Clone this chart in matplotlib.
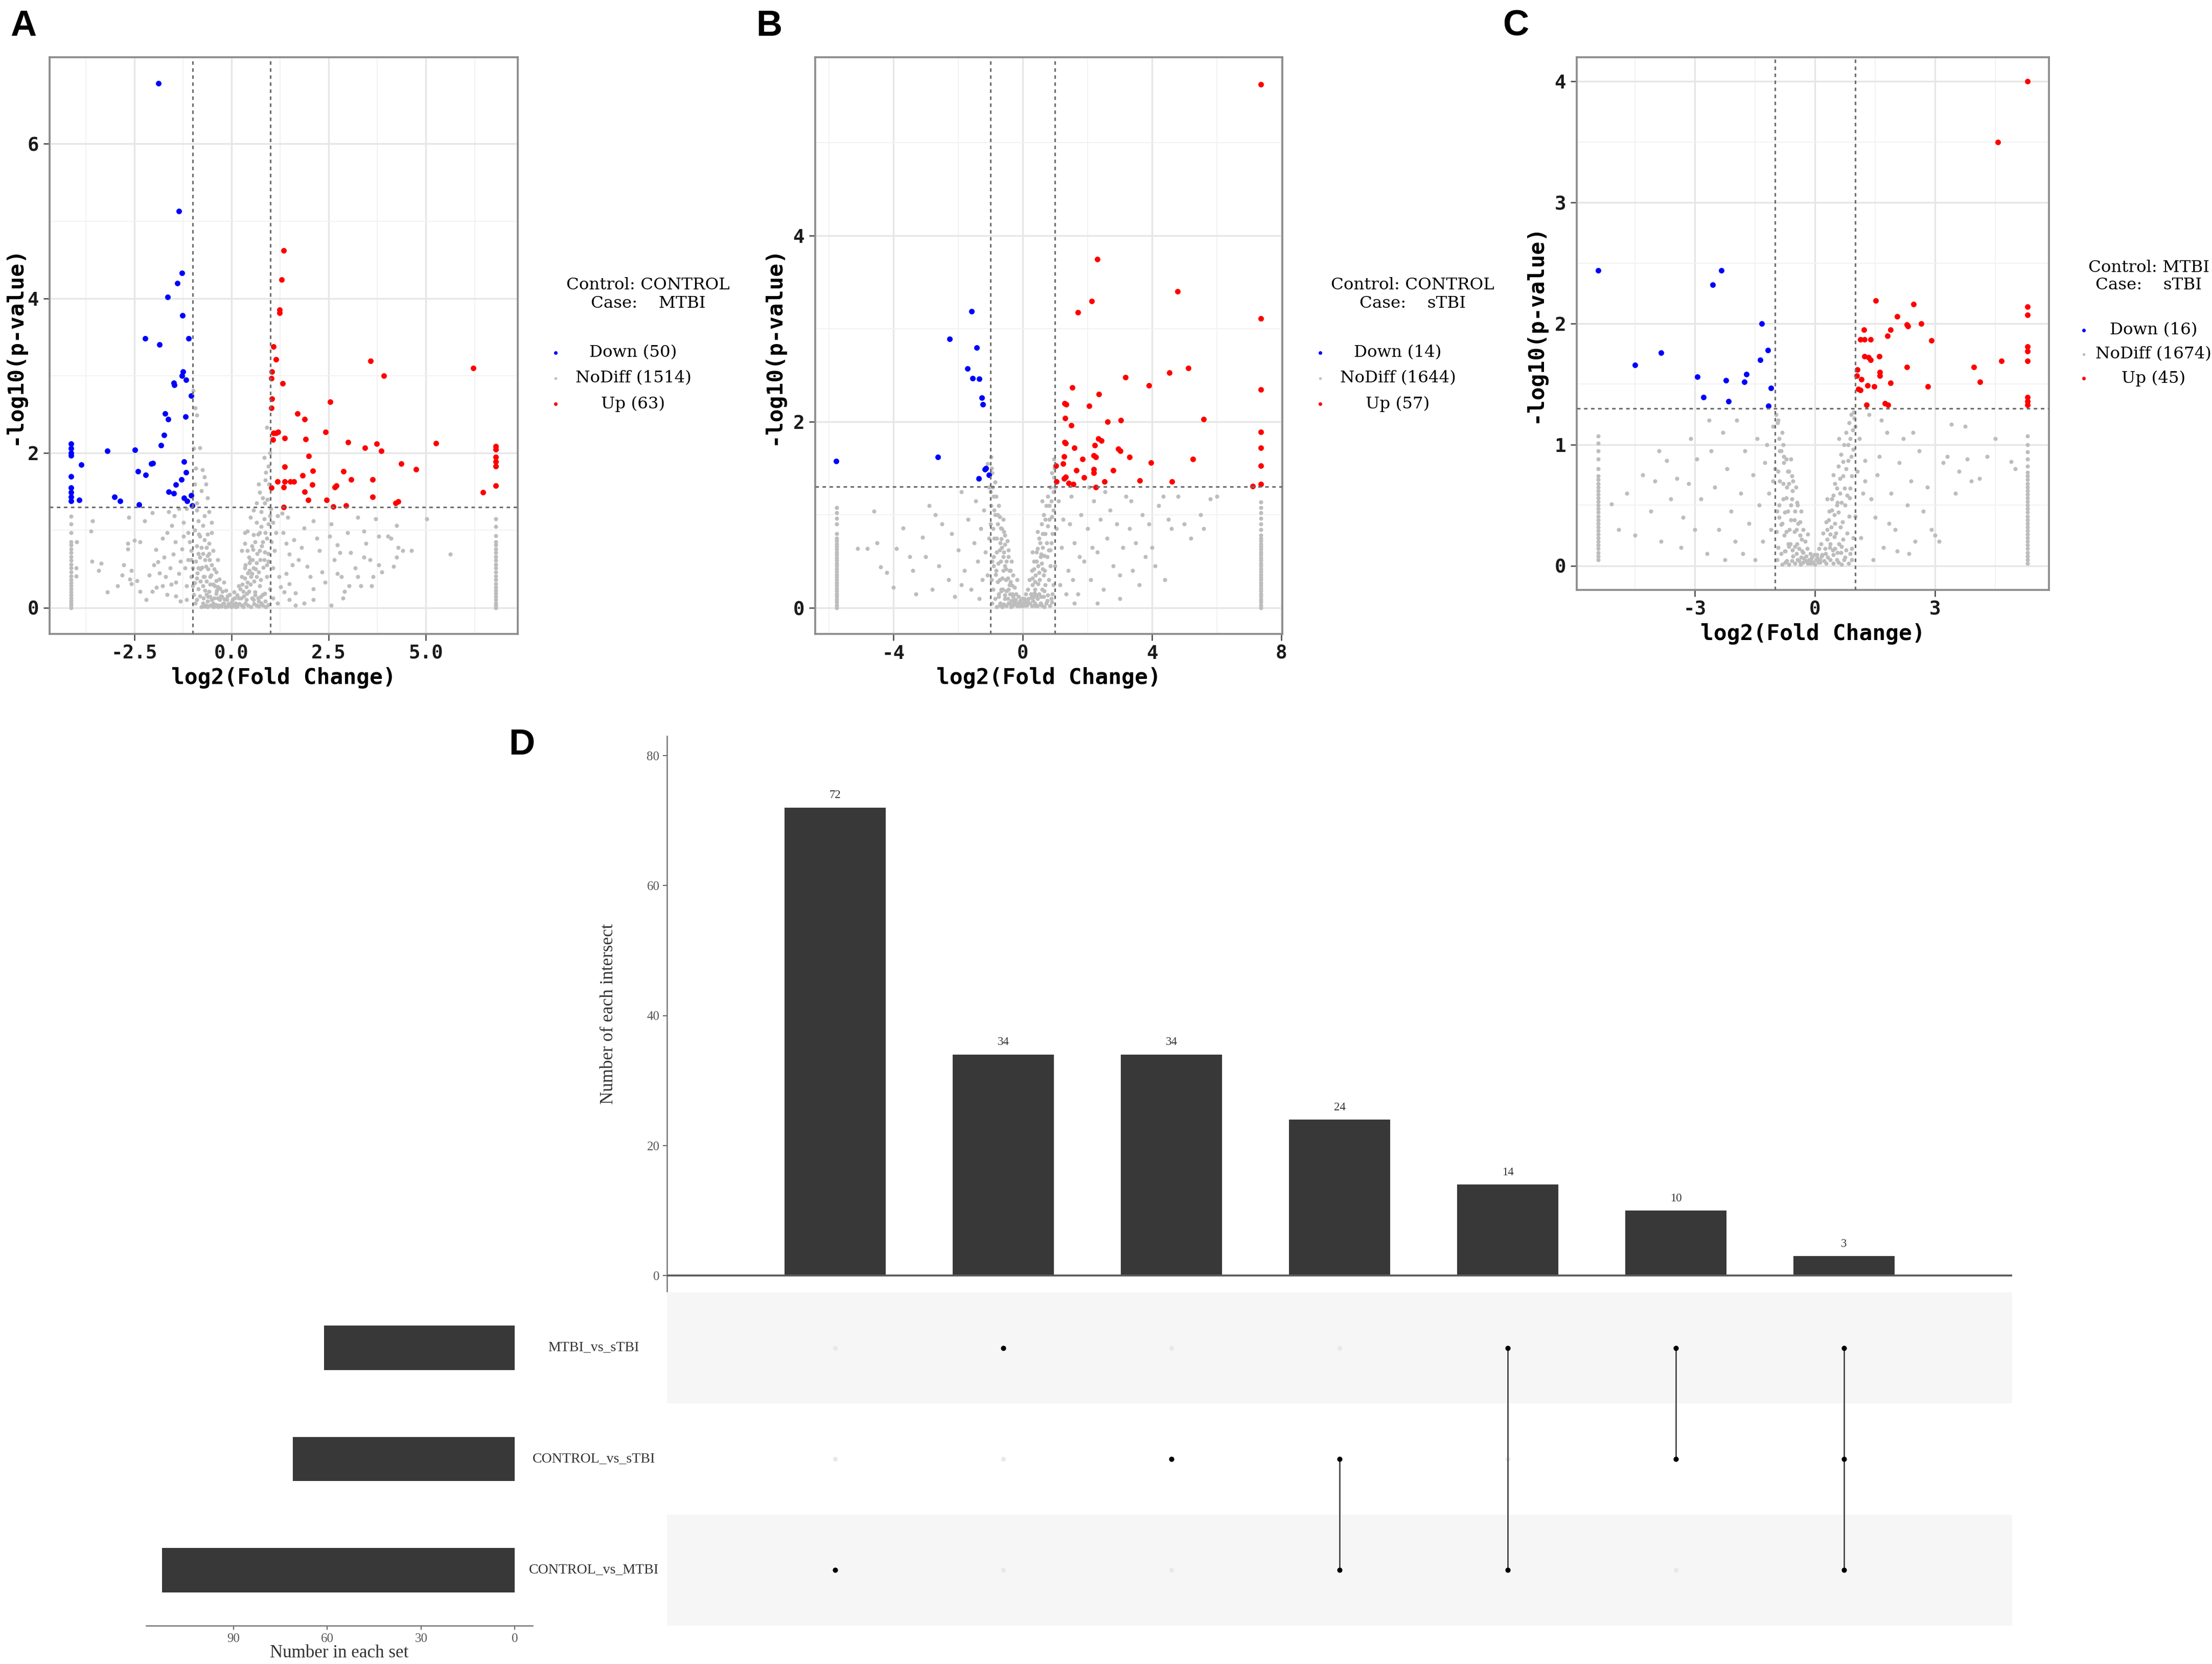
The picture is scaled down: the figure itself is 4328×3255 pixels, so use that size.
import matplotlib.pyplot as plt
from matplotlib.lines import Line2D
import numpy as np

W, H = 4328, 3255
DPI = 300

# ---------------- panel A : CONTROL vs MTBI ----------------
a_down = [(-1.88, 6.78), (-1.36, 5.13), (-1.28, 4.33), (-1.40, 4.20), (-1.65, 4.02),
          (-1.26, 3.78), (-2.22, 3.48), (-1.85, 3.40), (-1.11, 3.48), (-1.25, 3.05),
          (-1.28, 3.00), (-1.17, 2.95), (-1.49, 2.91), (-1.47, 2.88), (-1.04, 2.74),
          (-1.71, 2.51), (-1.63, 2.44), (-1.19, 2.47), (-1.74, 2.23), (-1.82, 2.10),
          (-4.13, 2.12), (-4.13, 2.06), (-4.13, 2.00), (-4.13, 1.97), (-3.20, 2.03),
          (-2.48, 2.04), (-2.02, 1.87), (-2.07, 1.86), (-1.22, 1.89), (-3.86, 1.85),
          (-2.41, 1.76), (-2.21, 1.72), (-1.17, 1.75), (-4.13, 1.70), (-1.29, 1.66),
          (-1.43, 1.59), (-4.13, 1.55), (-4.13, 1.49), (-4.13, 1.43), (-4.13, 1.38),
          (-1.62, 1.50), (-1.48, 1.48), (-3.01, 1.43), (-3.92, 1.39), (-2.86, 1.38),
          (-1.22, 1.42), (-1.15, 1.38), (-1.04, 1.45), (-2.38, 1.33), (-1.01, 1.32)]
a_up = [(1.34, 4.62), (1.29, 4.24), (1.23, 3.85), (1.24, 3.81), (1.08, 3.38), (1.14, 3.21),
        (1.04, 3.05), (1.02, 2.97), (1.32, 2.90), (1.04, 2.70), (1.02, 2.58), (2.53, 2.66),
        (1.70, 2.51), (1.88, 2.44), (1.08, 2.26), (1.14, 2.26), (1.20, 2.27), (1.36, 2.19),
        (1.91, 2.18), (2.42, 2.27), (3.00, 2.14), (5.26, 2.13), (3.73, 2.12), (3.43, 2.07),
        (3.85, 2.03), (6.80, 2.09), (6.80, 2.05), (6.80, 1.95), (6.80, 1.89), (6.80, 1.83),
        (1.99, 1.96), (3.58, 3.19), (3.91, 3.00), (6.22, 3.10), (4.36, 1.86), (4.74, 1.79),
        (1.36, 1.82), (2.09, 1.77), (2.88, 1.76), (1.82, 1.71), (1.36, 1.63), (1.51, 1.63),
        (1.60, 1.63), (1.18, 1.63), (3.07, 1.66), (3.63, 1.66), (2.07, 1.59), (2.70, 1.58),
        (2.66, 1.56), (6.80, 1.58), (1.02, 1.55), (1.34, 1.56), (1.88, 1.50), (6.46, 1.49),
        (1.97, 1.39), (2.45, 1.39), (3.63, 1.43), (4.28, 1.37), (4.22, 1.35), (2.94, 1.32),
        (2.61, 1.31), (1.34, 1.30), (1.06, 2.17)]
a_nodiff = [
    (-3.58, 1.12), (-3.62, 0.99), (-3.98, 0.85), (-3.59, 0.60), (-3.35, 0.57), (-3.42, 0.48),
    (-4.00, 0.51), (-4.00, 0.41), (-3.19, 0.20), (-2.64, 1.17), (-2.77, 0.55), (-2.58, 0.48),
    (-2.67, 0.83), (-2.67, 0.76), (-2.50, 0.87), (-2.35, 0.85), (-2.23, 1.12), (-2.04, 1.23),
    (-2.58, 0.31), (-2.35, 0.21), (-2.20, 0.10), (-2.43, 0.35), (-2.12, 0.42), (-2.00, 0.55),
    (-1.89, 0.59), (-1.73, 0.65), (-1.77, 0.90), (-1.66, 0.97), (-1.54, 1.06), (-1.62, 1.24),
    (-1.47, 1.19), (-1.50, 0.69), (-1.58, 0.51), (-1.70, 0.40), (-1.77, 0.28), (-1.66, 0.17),
    (-1.93, 0.26), (-2.04, 0.21), (-1.43, 0.33), (-1.35, 0.44), (-1.31, 0.60), (-1.27, 0.76),
    (-1.24, 0.92), (-1.24, 1.10), (-1.35, 1.28), (-1.43, 0.15), (-1.31, 0.08), (-2.62, 0.37),
    (-2.93, 0.28), (-2.81, 0.42), (-1.85, 0.45), (-1.55, 0.30), (-1.45, 0.85), (-1.95, 0.75),
    (-0.98, 2.81), (-0.93, 2.58), (-0.89, 2.49), (-0.97, 2.06), (-0.81, 2.07), (-0.75, 1.78),
    (-0.70, 1.69), (-0.66, 1.60), (-0.78, 1.51), (-0.62, 1.42), (-0.89, 1.26), (-0.58, 1.24),
    (-0.51, 1.10), (-1.16, 1.28), (-1.12, 0.97), (-1.08, 0.85), (-1.04, 0.74), (-1.04, 0.62),
    (-1.00, 0.51), (-1.04, 0.40), (-1.00, 0.28), (-0.97, 0.17), (-0.93, 0.06), (-0.89, 0.10),
    (-0.85, 0.24), (-0.89, 0.38), (-0.85, 0.51), (-0.81, 0.65), (-0.78, 0.78), (-0.81, 0.92),
    (-0.74, 1.06), (-0.70, 1.19), (-0.85, 1.12), (-0.74, 0.28), (-0.70, 0.40), (-0.66, 0.53),
    (-0.62, 0.67), (-0.58, 0.83), (-0.51, 0.97), (-0.47, 0.74), (-0.51, 0.55), (-0.55, 0.40),
    (-0.58, 0.21), (-0.62, 0.08), (-0.43, 0.28), (-0.39, 0.46), (-0.35, 0.62), (-0.32, 0.37),
    (-0.24, 0.21), (-0.35, 0.12), (-0.47, 0.06), (-0.20, 0.33), (-0.12, 0.10), (-0.05, 0.17),
    (-1.16, 0.28), (-1.20, 0.51), (-1.12, 0.62), (-1.16, 0.10), (-0.81, 0.15), (-0.66, 0.03),
    (-0.74, 0.06), (-0.51, 0.10), (-0.32, 0.03), (-0.20, 0.06), (-0.05, 0.03), (0.11, 0.06),
    (0.26, 0.03), (0.03, 0.10), (0.18, 0.12), (-0.28, 0.15), (-0.15, 0.22), (-0.40, 0.18),
    (0.07, 0.20), (0.22, 0.24), (-0.10, 0.02), (0.15, 0.02), (0.35, 0.06), (-0.42, 0.02),
    (-0.60, 0.14), (-0.55, 0.30), (-0.68, 0.22), (-0.90, 0.80), (-0.95, 1.00), (-0.62, 0.95),
    (0.91, 2.33), (0.84, 1.94), (0.95, 1.83), (0.87, 1.65), (0.72, 1.49), (0.80, 1.42),
    (0.64, 1.35), (0.57, 1.26), (0.76, 1.24), (0.49, 1.17), (0.64, 1.10), (0.41, 0.99),
    (0.57, 0.94), (0.34, 0.83), (0.26, 0.74), (0.41, 0.74), (0.49, 0.62), (0.57, 0.51),
    (0.64, 0.40), (0.72, 0.28), (0.80, 0.17), (0.87, 0.08), (0.34, 0.51), (0.26, 0.40),
    (0.18, 0.28), (0.30, 0.21), (0.41, 0.33), (0.53, 0.44), (0.64, 0.58), (0.72, 0.74),
    (0.80, 0.85), (0.87, 0.97), (0.95, 1.08), (0.99, 1.19), (0.72, 0.97), (0.84, 0.62),
    (0.91, 0.40), (0.99, 0.24), (1.07, 0.12), (1.18, 0.06), (0.57, 0.10), (0.64, 0.03),
    (0.80, 0.03), (0.45, 0.21), (0.38, 0.10), (0.34, 0.97), (1.07, 0.51), (1.10, 0.74),
    (1.14, 0.97), (1.18, 1.19), (1.22, 0.40), (1.26, 0.27), (1.03, 0.85), (1.07, 1.10),
    (1.01, 1.28), (0.48, 0.30), (0.60, 0.20), (0.68, 0.12), (0.75, 0.36), (0.90, 0.55),
    (0.55, 0.75), (0.46, 0.48), (0.95, 0.70), (0.85, 1.35), (0.70, 1.60),
    (1.45, 1.17), (1.33, 0.97), (1.41, 0.83), (1.49, 0.69), (1.56, 0.55), (1.41, 0.44),
    (1.49, 0.31), (1.64, 0.19), (1.72, 0.62), (1.80, 0.78), (1.87, 1.03), (1.95, 0.53),
    (2.03, 0.40), (2.10, 1.12), (2.10, 0.24), (2.26, 0.74), (2.33, 0.46), (2.41, 0.33),
    (2.52, 0.92), (2.56, 1.08), (2.64, 0.62), (2.72, 0.81), (2.79, 0.71), (2.83, 0.40),
    (2.91, 0.21), (2.98, 0.97), (3.06, 0.71), (3.18, 0.51), (3.25, 0.40), (3.33, 0.28),
    (3.25, 1.17), (3.41, 0.99), (3.45, 0.83), (3.56, 0.62), (3.64, 0.40), (3.71, 1.15),
    (3.79, 0.92), (4.02, 0.92), (4.10, 0.90), (4.25, 1.06), (4.29, 0.78), (4.40, 0.74),
    (4.63, 0.74), (4.17, 0.53), (3.87, 0.46), (5.02, 1.15), (5.63, 0.69), (4.25, 0.65),
    (3.79, 0.55), (3.41, 0.65), (2.56, 0.03), (2.10, 0.10), (1.87, 0.06), (1.64, 0.03),
    (1.49, 0.10), (2.87, 0.12), (3.60, 0.28), (3.02, 0.28), (2.72, 0.44), (1.35, 0.20),
    (1.60, 0.88), (2.20, 0.90), (1.30, 1.22)]
# dense V-shaped core of the NoDiff cloud
a_core = [
    (-0.78, 0.01), (-0.70, 0.02), (-0.62, 0.01), (-0.55, 0.03), (-0.48, 0.01), (-0.40, 0.04),
    (-0.34, 0.01), (-0.27, 0.02), (-0.22, 0.05), (-0.16, 0.01), (-0.08, 0.05), (0.00, 0.01),
    (0.05, 0.04), (0.10, 0.01), (0.20, 0.05), (0.30, 0.01), (0.42, 0.03), (0.50, 0.01),
    (0.58, 0.05), (0.70, 0.02), (0.76, 0.06), (0.88, 0.01), (0.95, 0.04),
    (-0.72, 0.12), (-0.65, 0.17), (-0.55, 0.14), (-0.45, 0.12), (-0.38, 0.22), (-0.30, 0.10),
    (-0.25, 0.14), (-0.18, 0.11), (-0.10, 0.15), (0.00, 0.07), (0.08, 0.12), (0.14, 0.16),
    (0.25, 0.12), (0.32, 0.15), (0.40, 0.18), (0.52, 0.12), (0.60, 0.16), (0.75, 0.14),
    (0.85, 0.18), (0.70, 0.08),
    (-0.95, 0.32), (-0.88, 0.45), (-0.80, 0.34), (-0.76, 0.52), (-0.72, 0.40), (-0.68, 0.62),
    (-0.64, 0.34), (-0.60, 0.50), (-0.56, 0.62), (-0.52, 0.42), (-0.48, 0.30), (-0.45, 0.50),
    (-0.40, 0.35), (-0.36, 0.27), (-0.30, 0.25), (-0.92, 0.60), (-0.86, 0.70), (-0.80, 0.50),
    (-0.74, 0.70), (-0.70, 0.88), (-0.64, 0.78), (-0.58, 0.70), (-0.84, 0.95), (-0.90, 1.35),
    (-0.95, 1.60), (-0.92, 1.80),
    (0.28, 0.30), (0.34, 0.38), (0.38, 0.27), (0.42, 0.45), (0.46, 0.58), (0.50, 0.40),
    (0.54, 0.62), (0.58, 0.34), (0.62, 0.50), (0.66, 0.70), (0.70, 0.46), (0.74, 0.62),
    (0.78, 0.80), (0.82, 0.52), (0.86, 0.72), (0.90, 0.90), (0.94, 0.60), (0.60, 0.85),
    (0.68, 0.95), (0.76, 1.05), (0.84, 1.15), (0.92, 1.40), (0.96, 1.60), (0.88, 1.75),
    (0.98, 2.00), (0.52, 0.80), (0.44, 0.65), (0.36, 0.55)]
a_edge_x = [-4.13, 6.80]
a_edge_left = [0.00, 0.03, 0.06, 0.09, 0.12, 0.16, 0.20, 0.24, 0.28, 0.32, 0.36, 0.41,
               0.46, 0.51, 0.56, 0.61, 0.66, 0.71, 0.76, 0.81, 0.85, 0.97, 1.08, 1.18]
a_edge_right = [0.00, 0.03, 0.06, 0.10, 0.14, 0.18, 0.22, 0.26, 0.31, 0.36, 0.41, 0.46,
                0.51, 0.56, 0.61, 0.66, 0.71, 0.76, 0.81, 0.85, 0.93, 1.05, 1.15]

# ---------------- panel B : CONTROL vs sTBI ----------------
b_down = [(-5.77, 1.58), (-2.63, 1.62), (-2.26, 2.89), (-1.58, 3.19), (-1.42, 2.80),
          (-1.71, 2.57), (-1.55, 2.47), (-1.34, 2.46), (-1.27, 2.26), (-1.24, 2.19),
          (-1.17, 1.49), (-1.14, 1.50), (-1.05, 1.43), (-1.36, 1.39)]
b_up = [(7.37, 5.63), (2.31, 3.75), (4.79, 3.40), (2.13, 3.30), (1.71, 3.18), (7.37, 3.11),
        (5.12, 2.58), (4.53, 2.53), (3.18, 2.48), (3.90, 2.39), (1.53, 2.37), (7.37, 2.35),
        (2.36, 2.30), (1.30, 2.20), (1.34, 2.19), (2.06, 2.17), (1.31, 2.04), (5.59, 2.03),
        (3.04, 2.02), (2.63, 2.00), (1.50, 1.96), (7.37, 1.89), (2.34, 1.82), (2.44, 1.80),
        (1.30, 1.78), (1.33, 1.77), (2.22, 1.75), (2.96, 1.71), (3.02, 1.69), (7.37, 1.72),
        (1.28, 1.63), (2.20, 1.64), (2.26, 1.62), (1.85, 1.60), (5.27, 1.60), (3.97, 1.56),
        (1.02, 1.53), (7.37, 1.53), (2.19, 1.49), (2.20, 1.45), (1.66, 1.48), (1.33, 1.41),
        (1.28, 1.39), (3.62, 1.37), (2.53, 1.36), (4.61, 1.36), (1.05, 1.36), (1.42, 1.34),
        (7.11, 1.31), (7.37, 1.33), (2.26, 1.30), (1.56, 1.33), (1.25, 1.55), (2.80, 1.48),
        (1.90, 1.40), (3.30, 1.62), (1.60, 1.72)]
b_nodiff = [
    (-5.10, 0.64), (-4.80, 0.64), (-4.60, 1.04), (-4.40, 0.44), (-4.20, 0.38), (-4.00, 0.22),
    (-3.90, 0.64), (-3.70, 0.86), (-3.50, 0.55), (-3.30, 0.15), (-3.10, 0.76), (-2.90, 1.10),
    (-2.70, 1.00), (-2.50, 0.90), (-2.60, 0.45), (-2.30, 0.30), (-2.20, 0.80), (-2.00, 0.62),
    (-1.90, 1.25), (-1.80, 0.40), (-1.70, 0.95), (-1.60, 0.20), (-1.50, 0.70), (-1.45, 1.15),
    (-1.40, 0.50), (-1.35, 0.10), (-1.30, 0.85), (-1.25, 0.30), (-3.40, 0.40), (-4.50, 0.70),
    (-2.80, 0.20), (-2.10, 0.12), (-1.90, 0.25), (-3.00, 0.55),
    (-1.20, 1.05), (-1.15, 0.60), (-1.10, 0.35), (-1.05, 1.30), (-1.00, 0.90), (-0.98, 1.62),
    (-0.95, 1.45), (-0.95, 0.50), (-0.92, 0.20), (-0.90, 1.20), (-0.88, 0.75), (-0.85, 1.00),
    (-0.82, 0.40), (-0.80, 0.60), (-0.78, 0.90), (-0.75, 0.15), (-0.72, 0.30), (-0.70, 0.70),
    (-0.68, 0.50), (-0.65, 0.85), (-0.62, 0.20), (-0.60, 0.40), (-0.58, 0.60), (-0.55, 0.10),
    (-0.52, 0.30), (-0.50, 0.50), (-0.48, 0.72), (-0.45, 0.20), (-0.42, 0.40), (-0.40, 0.05),
    (-0.38, 0.28), (-0.35, 0.50), (-0.32, 0.15), (-0.30, 0.35), (-0.28, 0.08), (-0.25, 0.22),
    (-0.22, 0.05), (-0.20, 0.15), (-0.18, 0.30), (-0.15, 0.05), (-0.12, 0.12), (-0.10, 0.02),
    (-0.08, 0.08), (-0.05, 0.03), (-0.02, 0.10), (-1.10, 1.55), (-1.00, 1.25), (-0.95, 0.05),
    (-0.85, 0.10), (-0.70, 0.05), (-0.60, 0.95), (-0.55, 0.78), (-0.45, 0.62), (-0.90, 0.45),
    (-1.05, 0.75), (-0.77, 0.28), (-0.67, 0.20), (-0.50, 0.18), (-0.35, 0.08), (-0.25, 0.05),
    (-0.98, 1.10), (-0.85, 1.35), (-0.75, 1.10), (-0.65, 0.65), (-0.55, 0.45), (-0.42, 0.25),
    (0.02, 0.05), (0.05, 0.10), (0.08, 0.03), (0.10, 0.15), (0.12, 0.06), (0.15, 0.20),
    (0.18, 0.10), (0.20, 0.30), (0.22, 0.05), (0.25, 0.15), (0.28, 0.40), (0.30, 0.25),
    (0.32, 0.08), (0.35, 0.50), (0.38, 0.20), (0.40, 0.35), (0.42, 0.60), (0.45, 0.10),
    (0.48, 0.45), (0.50, 0.75), (0.52, 0.30), (0.55, 0.55), (0.58, 0.90), (0.60, 0.20),
    (0.62, 0.65), (0.65, 1.00), (0.68, 0.40), (0.70, 0.80), (0.72, 1.10), (0.75, 0.55),
    (0.78, 1.20), (0.80, 0.30), (0.82, 0.95), (0.85, 1.30), (0.88, 0.70), (0.90, 1.45),
    (0.92, 0.15), (0.95, 1.05), (0.97, 1.60), (1.00, 0.45), (1.05, 0.85), (1.10, 1.15),
    (1.15, 0.25), (1.20, 0.65), (1.25, 0.95), (0.55, 0.05), (0.65, 0.12), (0.75, 0.08),
    (0.40, 0.02), (0.30, 0.60), (0.45, 0.82), (0.60, 1.15), (0.35, 0.12), (0.50, 0.15),
    (0.85, 0.45), (0.95, 0.25), (1.00, 1.30), (0.70, 0.25), (0.62, 0.42), (0.80, 0.62),
    (1.40, 0.40), (1.50, 1.20), (1.60, 0.70), (1.70, 0.15), (1.80, 1.00), (1.90, 0.50),
    (2.00, 0.85), (2.10, 0.30), (2.20, 1.15), (2.30, 0.60), (2.40, 0.95), (2.50, 0.20),
    (2.60, 0.75), (2.70, 1.05), (2.80, 0.45), (2.90, 0.90), (3.00, 0.35), (3.10, 0.65),
    (3.20, 1.20), (3.30, 0.85), (3.40, 0.40), (3.50, 0.70), (3.60, 0.25), (3.70, 1.00),
    (3.80, 0.55), (3.90, 0.90), (4.00, 0.65), (4.20, 1.10), (4.40, 0.30), (4.50, 0.95),
    (4.60, 0.85), (4.80, 1.20), (5.00, 0.90), (5.20, 0.75), (5.50, 1.00), (5.60, 0.85),
    (5.80, 1.17), (6.00, 1.20), (2.30, 0.05), (1.60, 0.05), (3.00, 0.10), (4.10, 0.45),
    (1.45, 0.90), (2.15, 0.65), (1.35, 0.15), (1.55, 0.30), (1.75, 0.55), (2.05, 1.30),
    (2.55, 1.25), (3.35, 1.15), (4.35, 1.20)]
b_core = [
    (-0.80, 0.01), (-0.72, 0.03), (-0.64, 0.01), (-0.58, 0.04), (-0.50, 0.02), (-0.44, 0.05),
    (-0.36, 0.01), (-0.30, 0.03), (-0.18, 0.02), (0.00, 0.02), (0.12, 0.03), (0.28, 0.02),
    (0.38, 0.05), (0.46, 0.02), (0.58, 0.03), (0.66, 0.01), (0.72, 0.05), (0.84, 0.02),
    (0.90, 0.06),
    (-0.75, 0.12), (-0.66, 0.18), (-0.56, 0.14), (-0.46, 0.10), (-0.40, 0.15), (-0.30, 0.12),
    (-0.22, 0.09), (-0.10, 0.06), (0.06, 0.07), (0.16, 0.09), (0.26, 0.11), (0.36, 0.16),
    (0.44, 0.14), (0.56, 0.12), (0.66, 0.18), (0.78, 0.14), (0.88, 0.10),
    (-0.96, 0.30), (-0.90, 0.55), (-0.84, 0.36), (-0.80, 0.75), (-0.76, 0.48), (-0.72, 0.62),
    (-0.68, 0.86), (-0.64, 0.32), (-0.60, 0.55), (-0.56, 0.68), (-0.52, 0.42), (-0.46, 0.32),
    (-0.44, 0.55), (-0.38, 0.40), (-0.34, 0.24), (-0.92, 0.85), (-0.88, 1.05), (-0.82, 1.20),
    (-0.78, 1.00), (-0.72, 0.98), (-0.94, 1.30), (-0.96, 1.50), (-0.66, 0.74), (-0.58, 0.82),
    (0.30, 0.32), (0.34, 0.42), (0.38, 0.28), (0.42, 0.50), (0.46, 0.64), (0.50, 0.38),
    (0.54, 0.70), (0.58, 0.48), (0.62, 0.80), (0.66, 0.56), (0.70, 0.95), (0.74, 0.70),
    (0.78, 0.88), (0.82, 1.10), (0.86, 0.62), (0.90, 0.98), (0.94, 1.25), (0.96, 1.40),
    (0.98, 1.50), (0.92, 0.80), (0.88, 1.15), (0.56, 0.58), (0.48, 0.26), (0.64, 0.35)]
b_edge_x = [-5.76, 7.37]
b_edge_left = [0.00, 0.03, 0.06, 0.09, 0.12, 0.15, 0.18, 0.21, 0.24, 0.27, 0.30, 0.33,
               0.36, 0.39, 0.42, 0.45, 0.48, 0.51, 0.54, 0.57, 0.60, 0.63, 0.66, 0.69,
               0.72, 0.75, 0.80, 0.90, 0.96, 1.02, 1.08]
b_edge_right = [0.00, 0.03, 0.06, 0.09, 0.12, 0.15, 0.18, 0.21, 0.24, 0.27, 0.30, 0.33,
                0.36, 0.39, 0.42, 0.45, 0.48, 0.51, 0.54, 0.57, 0.60, 0.63, 0.66, 0.69,
                0.72, 0.75, 0.78, 0.84, 0.90, 0.96, 1.02, 1.08, 1.14]

# ---------------- panel C : MTBI vs sTBI ----------------
c_down = [(-5.42, 2.44), (-2.34, 2.44), (-2.55, 2.32), (-1.33, 2.00), (-3.84, 1.76),
          (-1.18, 1.78), (-4.50, 1.66), (-1.37, 1.70), (-2.94, 1.56), (-1.72, 1.58),
          (-2.22, 1.53), (-1.77, 1.52), (-1.10, 1.47), (-2.78, 1.39), (-2.16, 1.36),
          (-1.16, 1.32)]
c_up = [(5.30, 4.00), (4.56, 3.50), (1.51, 2.19), (2.46, 2.16), (5.30, 2.14), (5.30, 2.07),
        (2.05, 2.06), (2.29, 1.99), (2.32, 1.98), (2.65, 2.00), (1.22, 1.95), (1.89, 1.95),
        (1.81, 1.90), (1.13, 1.87), (1.24, 1.87), (1.39, 1.87), (2.90, 1.86), (5.30, 1.81),
        (5.30, 1.77), (1.24, 1.73), (1.33, 1.72), (1.39, 1.70), (1.60, 1.73), (5.30, 1.69),
        (4.65, 1.69), (3.97, 1.64), (2.29, 1.64), (1.62, 1.60), (1.62, 1.57), (1.04, 1.57),
        (1.16, 1.54), (4.12, 1.52), (1.89, 1.51), (1.31, 1.49), (1.47, 1.48), (2.81, 1.48),
        (1.08, 1.46), (1.13, 1.45), (5.30, 1.39), (5.30, 1.36), (5.30, 1.33), (1.28, 1.33),
        (1.75, 1.34), (1.82, 1.33), (1.05, 1.62)]
c_nodiff = [
    (-5.08, 0.51), (-4.90, 0.30), (-4.50, 0.25), (-4.30, 0.75), (-4.10, 0.45), (-4.00, 0.70),
    (-3.85, 0.20), (-3.70, 0.87), (-3.60, 0.55), (-3.45, 0.72), (-3.35, 0.15), (-3.30, 0.40),
    (-3.15, 0.68), (-3.00, 0.30), (-2.95, 0.88), (-2.85, 0.55), (-2.70, 0.10), (-2.60, 0.95),
    (-2.50, 0.65), (-2.40, 0.30), (-2.30, 1.10), (-2.20, 0.80), (-2.10, 0.45), (-2.00, 0.20),
    (-1.95, 1.20), (-1.85, 0.60), (-1.75, 0.95), (-1.65, 0.35), (-1.55, 0.75), (-1.50, 0.05),
    (-1.45, 1.05), (-1.40, 0.50), (-1.30, 0.20), (-1.25, 0.85), (-2.65, 1.20), (-3.10, 1.05),
    (-3.90, 0.95), (-2.25, 0.05), (-1.80, 0.10), (-4.70, 0.60),
    (-1.20, 1.00), (-1.15, 0.60), (-1.10, 0.30), (-1.05, 1.15), (-1.00, 0.80), (-0.98, 1.25),
    (-0.95, 0.45), (-0.92, 0.15), (-0.90, 1.05), (-0.88, 0.70), (-0.85, 0.95), (-0.82, 0.35),
    (-0.80, 0.55), (-0.78, 0.85), (-0.75, 0.12), (-0.72, 0.28), (-0.70, 0.65), (-0.68, 0.45),
    (-0.65, 0.78), (-0.62, 0.18), (-0.60, 0.38), (-0.58, 0.55), (-0.55, 0.08), (-0.52, 0.28),
    (-0.50, 0.45), (-0.48, 0.65), (-0.45, 0.18), (-0.42, 0.35), (-0.40, 0.04), (-0.38, 0.25),
    (-0.35, 0.45), (-0.32, 0.12), (-0.30, 0.30), (-0.28, 0.06), (-0.25, 0.20), (-0.22, 0.04),
    (-0.20, 0.14), (-0.18, 0.26), (-0.15, 0.05), (-0.12, 0.10), (-0.10, 0.02), (-0.08, 0.07),
    (-0.05, 0.03), (-0.02, 0.09), (-0.95, 0.05), (-0.85, 0.10), (-0.70, 0.04), (-0.60, 0.88),
    (-0.90, 0.40), (-1.05, 0.70), (-0.77, 0.25), (-0.67, 0.18), (-0.50, 0.16), (-0.35, 0.07),
    (-0.92, 1.20), (-0.80, 1.00), (-0.55, 0.70), (-0.45, 0.52),
    (0.02, 0.05), (0.05, 0.09), (0.08, 0.03), (0.10, 0.14), (0.12, 0.05), (0.15, 0.18),
    (0.18, 0.09), (0.20, 0.27), (0.22, 0.04), (0.25, 0.14), (0.28, 0.36), (0.30, 0.22),
    (0.32, 0.07), (0.35, 0.45), (0.38, 0.18), (0.40, 0.32), (0.42, 0.55), (0.45, 0.09),
    (0.48, 0.42), (0.50, 0.68), (0.52, 0.27), (0.55, 0.50), (0.58, 0.82), (0.60, 0.18),
    (0.62, 0.60), (0.65, 0.92), (0.68, 0.36), (0.70, 0.74), (0.72, 1.00), (0.75, 0.50),
    (0.78, 1.10), (0.80, 0.27), (0.82, 0.87), (0.85, 1.18), (0.88, 0.64), (0.90, 1.25),
    (0.92, 0.14), (0.95, 0.96), (0.97, 1.27), (1.00, 0.41), (1.05, 0.78), (1.10, 1.05),
    (1.15, 0.23), (1.20, 0.60), (1.25, 0.87), (0.55, 0.05), (0.65, 0.11), (0.75, 0.07),
    (0.30, 0.55), (0.45, 0.75), (0.60, 1.05), (0.50, 0.14), (0.85, 0.41), (0.95, 0.23),
    (1.00, 1.15), (0.70, 0.22), (0.80, 0.58),
    (1.35, 1.25), (1.50, 0.40), (1.60, 0.90), (1.70, 0.15), (1.80, 1.10), (1.90, 0.60),
    (2.00, 0.30), (2.10, 0.85), (2.20, 1.05), (2.30, 0.50), (2.40, 0.70), (2.50, 0.20),
    (2.60, 0.95), (2.70, 0.45), (2.80, 0.65), (2.90, 0.30), (3.00, 0.25), (3.10, 0.20),
    (3.20, 0.85), (3.30, 0.90), (3.40, 1.17), (3.50, 0.60), (3.60, 0.78), (3.75, 1.15),
    (3.80, 0.88), (3.90, 0.70), (4.10, 0.72), (4.30, 0.90), (4.50, 1.05), (4.90, 0.86),
    (5.00, 0.80), (1.45, 0.05), (2.35, 0.10), (1.25, 0.70), (1.40, 0.55), (1.65, 1.20),
    (2.05, 0.12), (1.55, 0.75), (1.85, 0.35), (2.45, 1.10)]
c_core = [
    (-0.82, 0.01), (-0.74, 0.03), (-0.66, 0.01), (-0.58, 0.04), (-0.50, 0.02), (-0.44, 0.05),
    (-0.36, 0.01), (-0.30, 0.03), (-0.18, 0.02), (0.00, 0.01), (0.12, 0.03), (0.28, 0.02),
    (0.38, 0.05), (0.46, 0.02), (0.58, 0.03), (0.66, 0.01), (0.72, 0.05), (0.84, 0.02),
    (0.92, 0.05),
    (-0.76, 0.12), (-0.66, 0.16), (-0.56, 0.13), (-0.46, 0.10), (-0.40, 0.14), (-0.30, 0.11),
    (-0.22, 0.08), (-0.10, 0.05), (0.06, 0.06), (0.16, 0.08), (0.26, 0.10), (0.36, 0.15),
    (0.44, 0.13), (0.56, 0.11), (0.66, 0.16), (0.78, 0.13), (0.88, 0.10),
    (-0.96, 0.28), (-0.90, 0.50), (-0.84, 0.34), (-0.80, 0.68), (-0.76, 0.44), (-0.72, 0.56),
    (-0.68, 0.78), (-0.64, 0.30), (-0.60, 0.50), (-0.56, 0.62), (-0.52, 0.38), (-0.46, 0.30),
    (-0.44, 0.50), (-0.38, 0.36), (-0.34, 0.22), (-0.92, 0.78), (-0.88, 0.95), (-0.82, 1.10),
    (-0.78, 0.90), (-0.72, 0.88), (-0.94, 1.18), (-0.66, 0.68), (-0.58, 0.74),
    (0.30, 0.30), (0.34, 0.38), (0.38, 0.26), (0.42, 0.46), (0.46, 0.58), (0.50, 0.35),
    (0.54, 0.64), (0.58, 0.44), (0.62, 0.72), (0.66, 0.52), (0.70, 0.86), (0.74, 0.64),
    (0.78, 0.80), (0.82, 1.00), (0.86, 0.56), (0.90, 0.90), (0.94, 1.12), (0.98, 1.22),
    (0.92, 0.74), (0.88, 1.05), (0.56, 0.52), (0.48, 0.24), (0.64, 0.32)]
c_edge_x = [-5.42, 5.30]
c_edge_left = [0.05, 0.08, 0.11, 0.14, 0.17, 0.20, 0.23, 0.26, 0.29, 0.32, 0.35, 0.38,
               0.41, 0.44, 0.47, 0.50, 0.53, 0.56, 0.59, 0.62, 0.65, 0.68, 0.71, 0.74,
               0.80, 0.88, 0.95, 1.01, 1.07]
c_edge_right = [0.02, 0.05, 0.08, 0.11, 0.14, 0.17, 0.20, 0.23, 0.26, 0.29, 0.32, 0.35,
                0.38, 0.41, 0.44, 0.47, 0.50, 0.53, 0.56, 0.59, 0.62, 0.65, 0.68, 0.71,
                0.74, 0.77, 0.82, 0.88, 0.94, 1.00, 1.07]

# ---------------- panel D : upset ----------------
set_names = ['MTBI_vs_sTBI', 'CONTROL_vs_sTBI', 'CONTROL_vs_MTBI']   # top to bottom
set_sizes = [61, 71, 113]
inter_counts = [72, 34, 34, 24, 14, 10, 3]
inter_sets = [[2], [0], [1], [1, 2], [0, 2], [0, 1], [0, 1, 2]]       # index into set_names

BLUE, RED, GREY = '#0000ff', '#ff0000', '#bdbdbd'
MONO = 'DejaVu Sans Mono'

fig = plt.figure(figsize=(W / DPI, H / DPI), dpi=DPI)


def fpos(l, t, r, b):
    # pixel box -> figure fraction box
    return [l / W, 1 - b / H, (r - l) / W, (b - t) / H]


def fxy(x, y):
    return x / W, 1 - y / H


def volcano(box, nodiff, edge_x, edge_l, edge_r, down, up, xlim, ylim,
            xmaj, xlab, xmin_, ymaj, ymin_, ylab_pad):
    ax = fig.add_axes(fpos(*box))
    ax.set_xlim(*xlim)
    ax.set_ylim(*ylim)
    ax.set_xticks(xmaj, labels=xlab, fontfamily=MONO, fontweight='bold', fontsize=9)
    ax.set_yticks(ymaj, labels=[f'{v:g}' for v in ymaj], fontfamily=MONO,
                  fontweight='bold', fontsize=9)
    ax.set_xticks(xmin_, minor=True)
    ax.set_yticks(ymin_, minor=True)
    ax.grid(which='major', color='#e6e6e6', lw=0.8, zorder=0)
    ax.grid(which='minor', color='#f2f2f2', lw=0.45, zorder=0)
    ax.set_axisbelow(True)
    ax.tick_params(which='major', length=3, width=0.6, color='#444444', pad=2,
                   labelcolor='#1a1a1a')
    ax.tick_params(which='minor', length=0)
    for s in ax.spines.values():
        s.set_color('#8c8c8c')
        s.set_linewidth(0.9)
    gx = [p[0] for p in nodiff] + [edge_x[0]] * len(edge_l) + [edge_x[1]] * len(edge_r)
    gy = [p[1] for p in nodiff] + edge_l + edge_r
    ax.scatter(gx, gy, s=3.8, color=GREY, lw=0, zorder=2)
    ax.scatter([p[0] for p in down], [p[1] for p in down], s=7, color=BLUE, lw=0, zorder=3)
    ax.scatter([p[0] for p in up], [p[1] for p in up], s=7, color=RED, lw=0, zorder=3)
    dash = (0, (2.2, 2.2))
    for v in (-1, 1):
        ax.axvline(v, color='#6e6e6e', lw=0.75, ls=dash, zorder=4)
    ax.axhline(-np.log10(0.05), color='#6e6e6e', lw=0.75, ls=dash, zorder=4)
    ax.set_xlabel('log2(Fold Change)', fontfamily=MONO, fontweight='bold',
                  fontsize=10.3, labelpad=2)
    ax.set_ylabel('-log10(p-value)', fontfamily=MONO, fontweight='bold',
                  fontsize=10.3, labelpad=ylab_pad)
    return ax


def legend(tcx, ty1, ty2, t1, t2, mx, lcx, ys, labels):
    fig.text(*fxy(tcx, ty1), t1, ha='center', va='center', family='DejaVu Serif', fontsize=7.8)
    fig.text(*fxy(tcx, ty2), t2, ha='center', va='center', family='DejaVu Serif', fontsize=7.8)
    for y, lab, col, ms in zip(ys, labels, [BLUE, GREY, RED], [1.7, 1.3, 1.7]):
        fig.add_artist(Line2D([mx / W], [1 - y / H], marker='o', ms=ms, ls='',
                              mfc=col, mec='none', transform=fig.transFigure))
        fig.text(*fxy(lcx, y), lab, ha='center', va='center', family='DejaVu Serif',
                 fontsize=7.8)


volcano((97, 112, 1013, 1240), a_nodiff + a_core, a_edge_x, a_edge_left, a_edge_right,
        a_down, a_up, (-4.68, 7.36), (-0.34, 7.12), [-2.5, 0, 2.5, 5],
        ['-2.5', '0.0', '2.5', '5.0'], [-3.75, -1.25, 1.25, 3.75, 6.25], [0, 2, 4, 6],
        [1, 3, 5], 1)
volcano((1595, 112, 2509, 1240), b_nodiff + b_core, b_edge_x, b_edge_left, b_edge_right,
        b_down, b_up, (-6.42, 8.03), (-0.28, 5.92), [-4, 0, 4, 8], ['-4', '0', '4', '8'],
        [-6, -2, 2, 6], [0, 2, 4], [1, 3, 5], 4)
volcano((3085, 112, 4009, 1154), c_nodiff + c_core, c_edge_x, c_edge_left, c_edge_right,
        c_down, c_up, (-5.95, 5.84), (-0.2, 4.2), [-3, 0, 3], ['-3', '0', '3'],
        [-4.5, -1.5, 1.5, 4.5], [0, 1, 2, 3, 4], [0.5, 1.5, 2.5, 3.5], 4)

legend(1268, 558, 594, 'Control: CONTROL', 'Case:    MTBI', 1087, 1239, [690, 740, 790],
       ['Down (50)', 'NoDiff (1514)', 'Up (63)'])
legend(2764, 558, 594, 'Control: CONTROL', 'Case:    sTBI', 2583, 2735, [690, 740, 790],
       ['Down (14)', 'NoDiff (1644)', 'Up (57)'])
legend(4204, 523, 558, 'Control: MTBI', 'Case:    sTBI', 4077, 4214, [646, 693, 740],
       ['Down (16)', 'NoDiff (1674)', 'Up (45)'])

# panel letters
for letter, (x, y) in zip('ABCD', [(46, 52), (1505, 52), (2966, 52), (1021, 1458)]):
    fig.text(*fxy(x, y), letter, ha='center', va='center', family='Liberation Sans',
             fontweight='bold', fontsize=17)

# ---------------- upset plot ----------------
SERIF = 'Liberation Serif'
BAR = '#383838'
TXT = '#333333'
cols = np.arange(len(inter_counts))
rows = [2 - i for i in range(len(set_names))]      # y position of each set row

axI = fig.add_axes(fpos(1305, 1440, 3937, 2526))
axI.bar(cols, inter_counts, width=0.6, color=BAR, zorder=2)
for c, v in zip(cols, inter_counts):
    axI.text(c, v + 1.9, str(v), ha='center', va='center', family=SERIF, fontsize=5.5,
             color=TXT)
axI.set_xlim(-1, 7)
axI.set_ylim(-2.4, 83)
axI.axhline(0, color='#5a5a5a', lw=0.9, zorder=3)
axI.set_xticks([])
axI.set_yticks([0, 20, 40, 60, 80])
axI.tick_params(axis='y', length=2, width=0.5, color='#666666', pad=1.5, labelsize=6,
                labelcolor='#555555')
for lab in axI.get_yticklabels():
    lab.set_fontfamily(SERIF)
for s in ['top', 'right', 'bottom']:
    axI.spines[s].set_visible(False)
axI.spines['left'].set_color('#777777')
axI.spines['left'].set_linewidth(0.6)
axI.set_ylabel('Number of each intersect', family=SERIF, fontsize=8.4, color=TXT,
               labelpad=14)

axS = fig.add_axes(fpos(286, 2528, 1042, 3180))
axS.set_facecolor('none')
axS.barh(rows, set_sizes, height=0.4, color=BAR)
axS.set_xlim(118, -5.7)
axS.set_ylim(-0.5, 2.5)
axS.set_yticks([])
axS.set_xticks([90, 60, 30, 0])
axS.tick_params(axis='x', length=2, width=0.5, color='#666666', pad=1.5, labelsize=6,
                labelcolor='#555555')
for lab in axS.get_xticklabels():
    lab.set_fontfamily(SERIF)
for s in ['top', 'right', 'left']:
    axS.spines[s].set_visible(False)
axS.spines['bottom'].set_color('#777777')
axS.spines['bottom'].set_linewidth(0.6)
axS.set_xlabel('Number in each set', family=SERIF, fontsize=8.4, color=TXT, labelpad=0)

axM = fig.add_axes(fpos(1305, 2528, 3937, 3180))
axM.set_facecolor('none')
axM.set_xlim(-1, 7)
axM.set_ylim(-0.5, 2.5)
for r in (2, 0):
    axM.axhspan(r - 0.5, r + 0.5, color='#f6f6f6', lw=0, zorder=0)
for c, members in zip(cols, inter_sets):
    ys = [rows[m] for m in members]
    for r in rows:
        if r in ys:
            axM.scatter(c, r, s=6, color='black', lw=0, zorder=3)
        else:
            axM.scatter(c, r, s=5, color='#e8e8e8', lw=0, zorder=1)
    if len(ys) > 1:
        axM.plot([c, c], [min(ys), max(ys)], color='#333333', lw=0.6, zorder=2)
for r, name in zip(rows, set_names):
    axM.text(-1.435, r, name, ha='center', va='center', family=SERIF, fontsize=6.7,
             color=TXT, clip_on=False)
axM.axis('off')

fig.savefig('out.png', dpi=DPI, facecolor='white')
